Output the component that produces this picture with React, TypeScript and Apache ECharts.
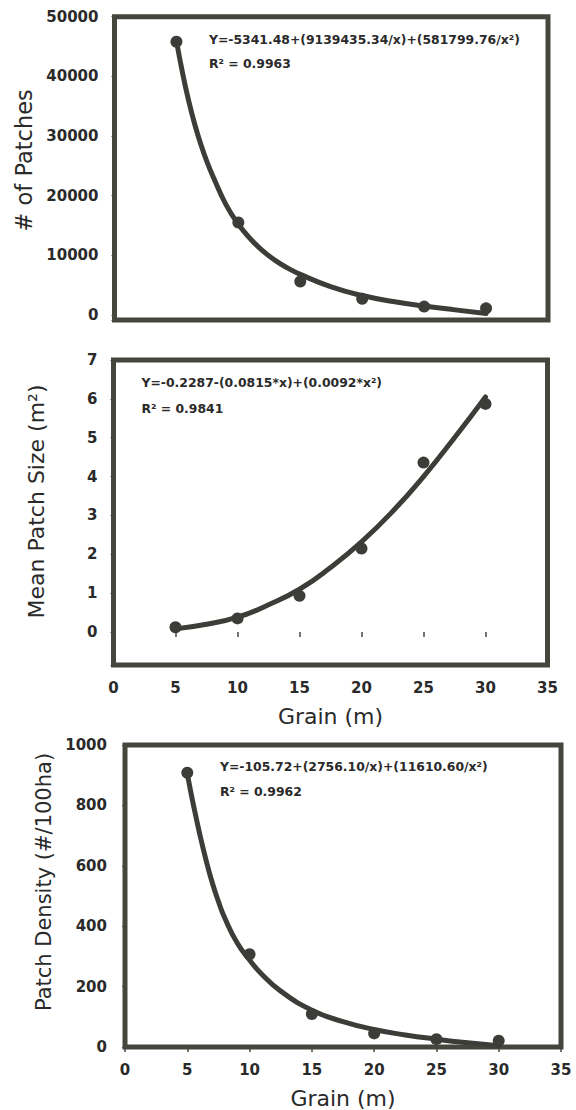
import React, { useEffect, useRef } from 'react';
import * as echarts from 'echarts';

// Observed data (Grain in m)
const grainX = [5, 10, 15, 20, 25, 30];
const patchCount = [45800, 15500, 5600, 2700, 1400, 1100];
const meanPatchSize = [0.12, 0.35, 0.93, 2.15, 4.36, 5.87];
const patchDensity = [908, 307, 109, 45, 26, 21];

// Fitted curves
const fitCountX = [5, 5.5, 6, 6.5, 7, 7.5, 8, 9, 10, 11, 12, 13, 14, 15, 17.5, 20, 22.5, 25, 27.5, 30];
const fitCountY = [46000, 40500, 35800, 31800, 28400, 25500, 23000, 18500, 15200, 12700, 10700, 9100, 7850, 6800, 4700, 3250, 2250, 1500, 850, 250];

const fitSizeX = [5, 7.5, 10, 12.5, 15, 17.5, 20, 22.5, 25, 27.5, 30];
const fitSizeY = [0.08, 0.2, 0.38, 0.7, 1.1, 1.66, 2.32, 3.1, 4.0, 5.0, 6.05];

const fitDensX = [5, 5.5, 6, 6.5, 7, 7.5, 8, 9, 10, 11, 12.5, 15, 17.5, 20, 22.5, 25, 27.5, 30];
const fitDensY = [905, 800, 705, 620, 545, 482, 428, 345, 288, 240, 185, 122, 84, 58, 40, 26, 14, 4];

const xTicks = [0, 35, 5];

const eqCount = 'Y=-5341.48+(9139435.34/x)+(581799.76/x²)';
const r2Count = 'R² = 0.9963';
const eqSize = 'Y=-0.2287-(0.0815*x)+(0.0092*x²)';
const r2Size = 'R² = 0.9841';
const eqDens = 'Y=-105.72+(2756.10/x)+(11610.60/x²)';
const r2Dens = 'R² = 0.9962';

const FONT = '"DejaVu Sans", "Liberation Sans", Arial, sans-serif';
const TXT = '#2a2a2a';
const LINE = '#3c3d38';
const FRAME = '#45473f';

const pairs = (xs: number[], ys: number[]) => xs.map((x, i) => [x, ys[i]]);

export default function App() {
  const ref = useRef<HTMLDivElement>(null);
  useEffect(() => {
    if (!ref.current) return;
    const chart = echarts.init(ref.current, null, { renderer: 'svg' });
    const gridBase = { show: true, borderColor: FRAME, borderWidth: 5, backgroundColor: '#fff', containLabel: false };
    const tickLabel = { color: TXT, fontSize: 15, fontWeight: 'bold' as const, fontFamily: FONT };
    const plain = (v: number) => (v < 0 ? '' : String(v));
    const xAxisBase = (idx: number, showLabels: boolean) => ({
      type: 'value',
      gridIndex: idx,
      min: xTicks[0],
      max: xTicks[1],
      interval: xTicks[2],
      splitLine: { show: false },
      axisLine: { show: false },
      axisTick: { show: showLabels, inside: false, length: 5, lineStyle: { color: FRAME, width: 1.5 } },
      axisLabel: { show: showLabels, margin: 15, formatter: plain, ...tickLabel },
      name: showLabels ? 'Grain (m)' : '',
      nameLocation: 'middle',
      nameGap: 40,
      nameTextStyle: { color: TXT, fontSize: 22, fontFamily: FONT },
    });
    const yAxisBase = (idx: number, extra: any) => ({
      type: 'value',
      gridIndex: idx,
      splitLine: { show: false },
      axisLine: { show: false },
      axisTick: { show: true, length: 3, lineStyle: { color: FRAME, width: 1 } },
      nameLocation: 'middle',
      nameRotate: 90,
      ...extra,
    });
    const lineSeries = (idx: number, data: number[][]) => ({
      type: 'line', xAxisIndex: idx, yAxisIndex: idx, data, smooth: 0.5, symbol: 'none',
      lineStyle: { color: LINE, width: 5, cap: 'round', join: 'round' }, z: 2,
    });
    const dotSeries = (idx: number, data: number[][]) => ({
      type: 'scatter', xAxisIndex: idx, yAxisIndex: idx, data, symbolSize: 12,
      itemStyle: { color: LINE, opacity: 1 }, z: 3,
    });
    const option: any = {
      animation: false,
      backgroundColor: '#fff',
      grid: [
        { ...gridBase, left: 114.5, top: 16.7, width: 433.5, height: 303.3 },
        { ...gridBase, left: 113.5, top: 360, width: 434, height: 305 },
        { ...gridBase, left: 125, top: 745, width: 436, height: 303 },
      ],
      xAxis: [xAxisBase(0, false), xAxisBase(1, true), xAxisBase(2, true)],
      yAxis: [
        yAxisBase(0, {
          min: -850,
          max: 50000,
          splitNumber: 5,
          axisLabel: { margin: 16, formatter: plain, ...tickLabel },
          name: '# of Patches',
          nameGap: 72,
          nameTextStyle: { color: TXT, fontSize: 22.5, fontFamily: FONT, padding: [0, 0, 0, 16] },
        }),
        yAxisBase(1, {
          min: -0.85,
          max: 7,
          splitNumber: 8,
          axisLabel: { margin: 16, formatter: plain, ...tickLabel },
          name: 'Mean Patch Size (m²)',
          nameGap: 66,
          nameTextStyle: { color: TXT, fontSize: 22, fontFamily: FONT, padding: [0, 0, 0, 22] },
        }),
        yAxisBase(2, {
          min: 0,
          max: 1000,
          interval: 200,
          axisLabel: { margin: 18, formatter: plain, ...tickLabel },
          name: 'Patch Density (#/100ha)',
          nameGap: 53,
          nameTextStyle: { color: TXT, fontSize: 21, fontFamily: FONT, padding: [0, 0, 0, 28] },
        }),
      ],
      series: [
        lineSeries(0, pairs(fitCountX, fitCountY)),
        dotSeries(0, pairs(grainX, patchCount)),
        lineSeries(1, pairs(fitSizeX, fitSizeY)),
        dotSeries(1, pairs(grainX, meanPatchSize)),
        lineSeries(2, pairs(fitDensX, fitDensY)),
        dotSeries(2, pairs(grainX, patchDensity)),
      ],
      graphic: [
        [eqCount, 209, 39], [r2Count, 209, 63],
        [eqSize, 141.5, 382.7], [r2Size, 141.5, 408.3],
        [eqDens, 220, 766.7], [r2Dens, 220, 791.7],
      ].map(([t, x, y]) => ({
        type: 'text',
        x: x as number,
        y: y as number,
        z: 10,
        style: { text: t as string, font: `bold 12.4px ${FONT}`, fill: TXT, verticalAlign: 'middle', align: 'left' },
      })),
    };
    chart.setOption(option);
    return () => chart.dispose();
  }, []);
  return <div ref={ref} style={{ position: 'absolute', left: 0, top: 0, width: 576, height: 1110, background: '#fff' }} />;
}
